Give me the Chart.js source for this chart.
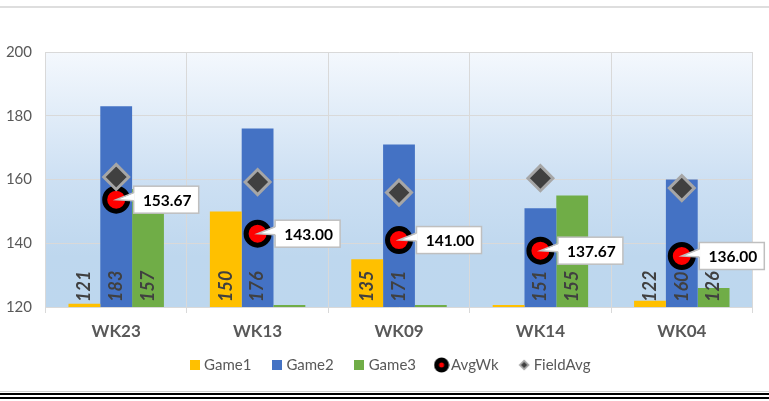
<!DOCTYPE html>
<html>
<head>
<meta charset="utf-8">
<script src="https://cdn.jsdelivr.net/npm/chart.js@4.4.1/dist/chart.umd.min.js"></script>
<style>
  body { margin: 0; background: #fff; }
  #wrap { position: relative; width: 769px; height: 401px; overflow: hidden; }
  #chart { display: block; }
  .rule { position: absolute; left: 0; width: 769px; }
</style>
</head>
<body>
<div id="wrap">
  <canvas id="chart" width="769" height="401"></canvas>
  <div class="rule" style="top:6px;height:2px;background:#dedede"></div>
  <div class="rule" style="top:391px;height:1px;background:#cfcfcf"></div>
  <div class="rule" style="top:393px;height:2px;background:#000"></div>
  <div class="rule" style="top:397px;height:2px;background:#000"></div>
</div>
<script>
// values
const weeks = ['WK23', 'WK13', 'WK09', 'WK14', 'WK04'];
const game1 = [121, 150, 135, 107, 122];
const game2 = [183, 176, 171, 151, 160];
const game3 = [157, 103, 117, 155, 126];
const avgWk = [153.67, 143.00, 141.00, 137.67, 136.00];
const fieldAvg = [160.8, 159.2, 155.9, 160.4, 157.3];
const yMin = 120, yMax = 200, yStep = 20;

// small canvases used as legend markers
function icon(w, h, draw) {
    const c = document.createElement('canvas');
    c.width = w; c.height = h;
    draw(c.getContext('2d'));
    return c;
}
function square(color) {
    return icon(10, 10, g => { g.fillStyle = color; g.fillRect(0, 0, 10, 10); });
}
const legendIcons = [
    square('#FFC000'),
    square('#4472C4'),
    square('#70AD47'),
    icon(16, 16, g => {
        g.fillStyle = '#000'; g.beginPath(); g.arc(8, 8, 7.5, 0, Math.PI * 2); g.fill();
        g.fillStyle = '#f00'; g.beginPath(); g.arc(8, 8, 2.5, 0, Math.PI * 2); g.fill();
    }),
    icon(12, 12, g => {
        g.fillStyle = '#a6a6a6';
        g.beginPath(); g.moveTo(6, 0.5); g.lineTo(11.5, 6); g.lineTo(6, 11.5); g.lineTo(0.5, 6); g.closePath(); g.fill();
        g.fillStyle = '#404040';
        g.beginPath(); g.moveTo(6, 3); g.lineTo(9, 6); g.lineTo(6, 9); g.lineTo(3, 6); g.closePath(); g.fill();
    })
];

// gradient fill of the plot area
const plotBg = {
    id: 'plotBg',
    beforeDraw(chart) {
        const { ctx, chartArea: a } = chart;
        const g = ctx.createLinearGradient(0, a.top, 0, a.bottom);
        g.addColorStop(0, '#f4f8fd');
        g.addColorStop(0.5, '#cde0f3');
        g.addColorStop(0.8, '#bed7ee');
        g.addColorStop(1, '#bdd7ee');
        ctx.save();
        ctx.fillStyle = g;
        ctx.fillRect(a.left, a.top, a.right - a.left, a.bottom - a.top);
        ctx.restore();
    }
};

// nudge the legend up and right, like the original
const legendShift = {
    id: 'legendShift',
    afterLayout(chart) {
        const l = chart.legend;
        l.top -= 13; l.bottom -= 13;
        l.left += 13; l.right += 13;
    }
};

// rotated value labels inside the bars (drawn before the point series)
const barLabels = {
    id: 'barLabels',
    afterDatasetDraw(chart, args) {
        if (args.index !== 0) return;
        const ctx = chart.ctx, a = chart.chartArea, y = chart.scales.y;
        for (let d = 0; d < 3; d++) {
            const ds = chart.data.datasets[d];
            chart.getDatasetMeta(d).data.forEach((el, i) => {
                const v = ds.data[i];
                if (v < y.min) {
                    // bar below the axis minimum: thin stub on the axis
                    ctx.fillStyle = ds.backgroundColor;
                    ctx.fillRect(el.x - el.width / 2, a.bottom - 2, el.width, 2);
                    return;
                }
                ctx.save();
                ctx.translate(el.x, a.bottom - 5);
                ctx.rotate(-Math.PI / 2);
                ctx.font = 'italic bold 18px Lato';
                ctx.fillStyle = '#404040';
                ctx.textAlign = 'left';
                ctx.textBaseline = 'middle';
                ctx.fillText(String(v), 0, 0);
                ctx.restore();
            });
        }
    }
};

// callout boxes for AvgWk
const avgLabels = {
    id: 'avgLabels',
    afterDraw(chart) {
        const ctx = chart.ctx;
        chart.getDatasetMeta(3).data.forEach((pt, i) => {
            const bw = 65, bh = 27;
            const bx = pt.x + 17.5, by = pt.y - bh / 2;
            ctx.save();
            ctx.fillStyle = '#fff';
            ctx.strokeStyle = '#bfbfbf';
            ctx.lineWidth = 1.5;
            ctx.fillRect(bx, by, bw, bh);
            ctx.strokeRect(bx, by, bw, bh);
            ctx.beginPath();
            ctx.moveTo(bx + 1, pt.y - 7);
            ctx.lineTo(pt.x, pt.y);
            ctx.lineTo(bx + 1, pt.y + 1);
            ctx.closePath();
            ctx.fill();
            ctx.beginPath();
            ctx.moveTo(bx, pt.y - 7);
            ctx.lineTo(pt.x, pt.y);
            ctx.lineTo(bx, pt.y + 1);
            ctx.stroke();
            ctx.font = 'bold 15.5px Lato';
            ctx.fillStyle = '#000';
            ctx.textAlign = 'center';
            ctx.textBaseline = 'middle';
            ctx.fillText(avgWk[i].toFixed(2), bx + bw / 2 + 1, pt.y + 1);
            ctx.restore();
        });
    }
};

new Chart(document.getElementById('chart'), {
    type: 'bar',
    data: {
        labels: weeks,
        datasets: [
            { label: 'Game1', data: game1, backgroundColor: '#FFC000', order: 2 },
            { label: 'Game2', data: game2, backgroundColor: '#4472C4', order: 2 },
            { label: 'Game3', data: game3, backgroundColor: '#70AD47', order: 2 },
            {
                type: 'line', label: 'AvgWk', data: avgWk, showLine: false, order: 1,
                pointRadius: 11.5, pointBorderWidth: 5,
                pointBackgroundColor: '#FF0000', pointBorderColor: '#000',
                backgroundColor: '#FF0000', borderColor: '#000'
            },
            {
                type: 'line', label: 'FieldAvg', data: fieldAvg, showLine: false, order: 0,
                pointStyle: 'rectRot', pointRadius: 12.5, pointBorderWidth: 3,
                pointBackgroundColor: '#404040', pointBorderColor: '#A6A6A6',
                backgroundColor: '#404040', borderColor: '#A6A6A6'
            }
        ]
    },
    options: {
        responsive: false,
        animation: false,
        devicePixelRatio: 1,
        layout: { padding: { left: 0, right: 12, top: 52, bottom: 5.5 } },
        datasets: { bar: { categoryPercentage: 0.675, barPercentage: 1 } },
        scales: {
            x: {
                grid: { color: '#d9d9d9', offset: true, tickLength: 6 },
                border: { display: false },
                ticks: { color: '#595959', font: { family: 'Lato', size: 17, weight: 'bold' }, padding: 8 },
                afterFit(s) { s.height = 40; }
            },
            y: {
                min: yMin, max: yMax,
                ticks: { stepSize: yStep, color: '#595959', font: { family: 'Lato', size: 15 }, padding: 13.5 },
                grid: { color: '#d9d9d9', drawTicks: false },
                border: { display: false },
                afterFit(s) { s.width = 45.5; }
            }
        },
        plugins: {
            legend: {
                position: 'bottom',
                labels: {
                    usePointStyle: true,
                    pointStyleWidth: 4,
                    padding: 23.5,
                    color: '#595959',
                    font: { family: 'Lato', size: 15 },
                    generateLabels(chart) {
                        const items = Chart.defaults.plugins.legend.labels.generateLabels(chart);
                        items.sort((p, q) => p.datasetIndex - q.datasetIndex);
                        items.forEach(it => { it.pointStyle = legendIcons[it.datasetIndex]; });
                        return items;
                    }
                }
            },
            tooltip: { enabled: false }
        }
    },
    plugins: [plotBg, legendShift, barLabels, avgLabels]
});
</script>
</body>
</html>
